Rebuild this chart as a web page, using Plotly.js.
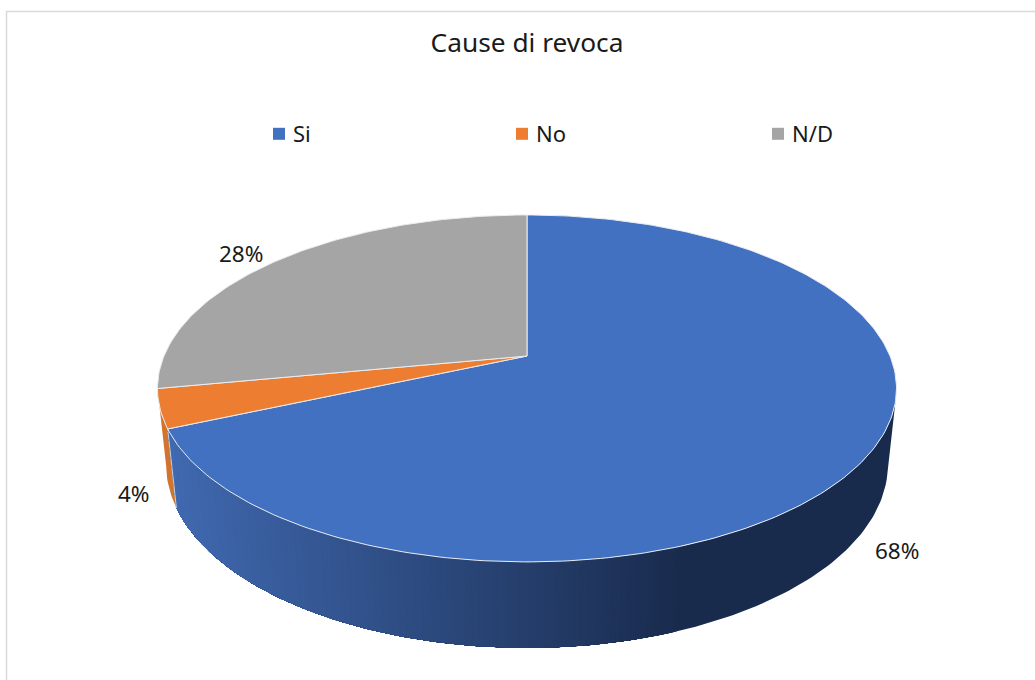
<!DOCTYPE html>
<html>
<head>
<meta charset="utf-8">
<script src="https://cdn.plot.ly/plotly-3.0.1.min.js"></script>
<style>html,body{margin:0;padding:0;background:#fff}</style>
</head>
<body>
<div id="chart" style="width:1035px;height:680px"></div>
<script>
const categories = ["Si", "No", "N/D"];
const shares = [68.4, 3.6, 28];
const colors = ["#4271c2", "#ed7d31", "#a5a5a5"];

const FONT = "'Noto Sans', sans-serif";
const INK = "#1a1a1a";
const GEO = {cx: 527, cy: 356, A: 363, B: 167.4, k: 0.187, m: 0.023, C: 76.6};
const total = shares.reduce((a, b) => a + b, 0);

function project(deg, z) {
  const t = deg * Math.PI / 180, u = Math.sin(t), v = -Math.cos(t);
  const w = 1 - GEO.k * v + GEO.m * z;
  return [GEO.cx + GEO.A * u / w, GEO.cy + (GEO.B * v + GEO.C * z) / w];
}
function mix(a, b, f) {
  const c = a.map((p, i) => Math.round(p + (b[i] - p) * f));
  return `rgb(${c[0]},${c[1]},${c[2]})`;
}
function arc(a0, a1, z) {
  const n = Math.max(2, Math.ceil(Math.abs(a1 - a0))), pts = [];
  for (let i = 0; i <= n; i++) pts.push(project(a0 + (a1 - a0) * i / n, z));
  return pts;
}

const traces = [];
let start = 0;
const bounds = shares.map(s => {
  const r = [start, start + s / total * 360];
  start = r[1];
  return r;
});

// side wall: nested polygons, each repainting from its own angle to the end of the wall,
// so neighbouring shades meet without a seam
function wallLayer(a0, a1, col) {
  const pts = [...arc(a0, a1, 0), ...arc(a1, a0, 1)];
  traces.push({x: pts.map(p => p[0]), y: pts.map(p => p[1]), mode: "lines", fill: "toself",
    fillcolor: col, line: {color: col, width: 0}, hoverinfo: "skip", showlegend: false});
}
function wall(a0, a1, shade) {
  const step = 0.25;
  let col = shade(project(a0, 1)[0]);
  wallLayer(a0, a1, col);
  for (let a = a0 + step; a < a1; a += step) {
    const c = shade(project(a, 1)[0]);
    if (c !== col) { wallLayer(a, a1, c); col = c; }
  }
}
const blueShade = x => mix([64, 105, 176], [25, 43, 77], Math.min(1, Math.max(0, (x - 177) / 503)));
wall(bounds[1][0], bounds[1][1], () => "#d2742d");
wall(105, bounds[0][1], blueShade);

// light seam at the end of the blue wall
const seam = [project(bounds[0][1], 0), project(bounds[0][1], 1)];
traces.push({x: seam.map(p => p[0]), y: seam.map(p => p[1]), mode: "lines",
  line: {color: "#c9cfd8", width: 1}, hoverinfo: "skip", showlegend: false});

// top face
bounds.forEach((r, i) => {
  const pts = [[GEO.cx, GEO.cy], ...arc(r[0], r[1], 0), [GEO.cx, GEO.cy]];
  traces.push({x: pts.map(p => p[0]), y: pts.map(p => p[1]), mode: "lines", fill: "toself",
    fillcolor: colors[i], line: {color: "#e9edf3", width: 1}, hoverinfo: "skip", showlegend: false});
});

// legend entries
categories.forEach((c, i) => {
  traces.push({x: [null], y: [null], mode: "markers", name: c, hoverinfo: "skip",
    marker: {symbol: "square", size: 12, color: colors[i]},
    legend: i === 0 ? "legend" : "legend" + (i + 1)});
});

const legendLeft = [253, 496, 752];
const legendBase = {orientation: "v", yanchor: "middle", y: 1 - 134 / 680, xanchor: "left",
  bgcolor: "rgba(0,0,0,0)", font: {family: FONT, size: 22, color: INK}, itemclick: false, itemdoubleclick: false};

const labelPos = [[897, 550], [133.5, 493], [241, 253]];

const layout = {
  width: 1035, height: 680, margin: {l: 0, r: 0, t: 0, b: 0}, paper_bgcolor: "#fff", plot_bgcolor: "#fff",
  xaxis: {range: [0, 1035], visible: false, fixedrange: true},
  yaxis: {range: [680, 0], visible: false, fixedrange: true},
  title: {text: "Cause di revoca", x: 527 / 1035, xanchor: "center", y: 1 - 43 / 680, yanchor: "middle",
    font: {family: FONT, size: 26.3, color: INK}},
  shapes: [{type: "rect", xref: "x", yref: "y", x0: 6.5, y0: 11.5, x1: 1045, y1: 695,
    line: {color: "#d9d9d9", width: 1.5}, layer: "below"}],
  annotations: shares.map((s, i) => ({x: labelPos[i][0], y: labelPos[i][1], xref: "x", yref: "y",
    text: Math.round(s / total * 100) + "%", showarrow: false, xanchor: "center", yanchor: "middle",
    font: {family: FONT, size: 22.5, color: INK}})),
  legend: {...legendBase, x: legendLeft[0] / 1035},
  legend2: {...legendBase, x: legendLeft[1] / 1035},
  legend3: {...legendBase, x: legendLeft[2] / 1035}
};
Plotly.newPlot("chart", traces, layout, {displayModeBar: false, staticPlot: true}).then(() => {
  // the reference keeps its swatches closer to the legend text
  document.querySelectorAll("#chart .legendsymbols").forEach(g => g.setAttribute("transform", "translate(6,0)"));
});
</script>
</body>
</html>
